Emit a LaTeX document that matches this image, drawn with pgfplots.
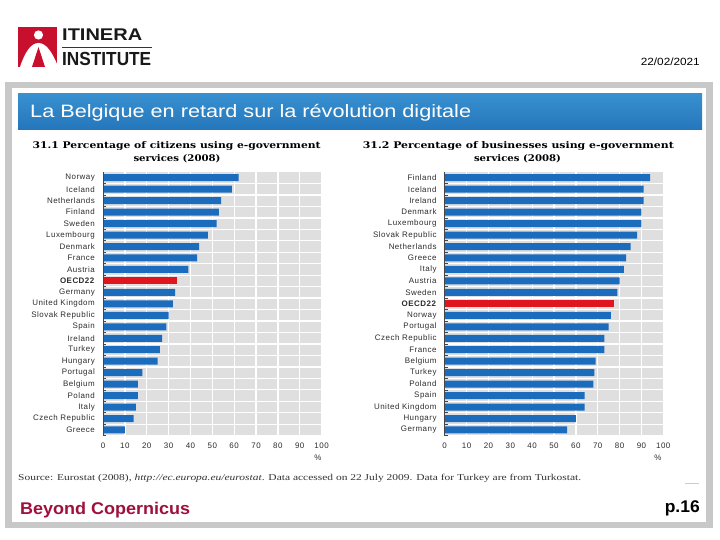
\documentclass[border=0pt]{standalone}
\usepackage{graphicx}
\usepackage{fontspec}
\usepackage{pgfplots}
\usepackage{pgfplotstable}
\pgfplotsset{compat=1.18}
\setmainfont{Liberation Sans}
\newfontfamily\titleserif{DejaVu Serif}
\newfontfamily\srcserif{Liberation Serif}
\newfontfamily\labfont{Liberation Sans}[LetterSpace=6]
\newcommand\fitw[2]{\resizebox{#1}{\height}{#2}}
\definecolor{barblue}{RGB}{28,108,190}
\definecolor{barred}{RGB}{224,22,30}
\definecolor{bggray}{RGB}{223,223,223}
\definecolor{framegray}{RGB}{200,200,200}
\definecolor{hdtop}{RGB}{56,144,208}
\definecolor{hdbot}{RGB}{36,118,186}
\definecolor{logored}{RGB}{200,16,46}
\definecolor{crimson}{RGB}{160,16,60}
\definecolor{labgray}{RGB}{45,45,45}
\definecolor{axgray}{RGB}{70,70,70}

\pgfplotstableread{
i v
0 10
1 14
2 15
3 16
4 16
5 18
6 25
7 26
8 27
9 29
10 30
11 32
12 33
14 39
15 43
16 44
17 48
18 52
19 53
20 54
21 59
22 62
}\leftdata

\pgfplotstableread{
i v
0 56
1 60
2 64
3 64
4 68
5 68.5
6 69
7 73
8 73
9 75
10 76
12 79
13 80
14 82
15 83
16 85
17 88
18 90
19 90
20 91
21 91
22 94
}\rightdata

\pgfplotsset{
 mybar/.style={
  scale only axis, width=218.6bp, height=263.7bp,
  xmin=0, xmax=100, ymin=-0.5, ymax=22.5,
  xbar, bar width=7bp, bar shift=0pt,
  xtick={0,10,...,100}, ytick={0,...,22},
  minor ytick={-0.5,0.5,...,21.5},
  xtick pos=bottom, ytick pos=left,
  major tick length=0pt, minor tick length=3bp, tick align=inside,
  axis line style={draw=none},
  axis background/.style={fill=bggray},
  xmajorgrids, yminorgrids,
  major grid style={white, line width=1.3bp},
  minor grid style={white, line width=1.3bp},
  every minor tick/.append style={axgray, line width=0.6bp},
  tick label style={font=\labfont\fontsize{8}{9}\selectfont, text=labgray},
  yticklabel style={inner sep=0pt, xshift=-8bp, anchor=east},
  xticklabel style={inner sep=0pt, yshift=-7bp, anchor=north},
  /pgf/number format/assume math mode=true,
  clip=false,
 }}

\begin{document}
\begin{tikzpicture}[x=1bp,y=1bp]
\fill[white] (0,0) rectangle (720,-540);
\useasboundingbox (0,0) rectangle (720,-540);

% logo
\fill[logored] (18,-27) rectangle (57,-67);
\fill[white] (20,-67) .. controls (25,-52) and (31,-43) .. (38.5,-43)
  .. controls (46,-43) and (52,-52) .. (57,-64) -- (57,-67) -- cycle;
\fill[logored] (38.5,-47) -- (32,-67) -- (45,-67) -- cycle;
\fill[white] (38.5,-35) circle (4.6);
\node[anchor=base west, inner sep=0, text=black!90] at (62,-41)
  {\fitw{80bp}{\bfseries\fontsize{17}{17}\selectfont ITINERA}};
\draw[logored!70!black, line width=0.8] (62,-47) -- (152,-47);
\node[anchor=base west, inner sep=0, text=black!90] at (62,-66)
  {\fitw{89bp}{\bfseries\fontsize{19}{19}\selectfont INSTITUTE}};

% date
\node[anchor=base east, inner sep=0] at (700,-66)
  {\fitw{59bp}{\fontsize{10.5}{12}\selectfont 22/02/2021}};

% frame
\fill[framegray] (5,-82) rectangle (713,-528);
\fill[white] (12,-88) rectangle (706,-521.5);

% header bar
\shade[top color=hdtop, bottom color=hdbot] (18,-94) rectangle (702,-130);
\node[anchor=base west, inner sep=0, text=white] at (30,-118)
  {\fitw{441bp}{\fontsize{18}{20}\selectfont La Belgique en retard sur la révolution digitale}};

% chart titles
\node[anchor=base west, inner sep=0] at (32.5,-149)
  {\fitw{288bp}{\titleserif\bfseries\fontsize{9.2}{10}\selectfont 31.1 Percentage of citizens using e-government}};
\node[anchor=base, inner sep=0] at (177,-161.7)
  {\fitw{87bp}{\titleserif\bfseries\fontsize{9.2}{10}\selectfont services (2008)}};
\node[anchor=base west, inner sep=0] at (362.7,-149)
  {\fitw{311bp}{\titleserif\bfseries\fontsize{9.2}{10}\selectfont 31.2 Percentage of businesses using e-government}};
\node[anchor=base, inner sep=0] at (517.5,-161.7)
  {\fitw{87bp}{\titleserif\bfseries\fontsize{9.2}{10}\selectfont services (2008)}};

% left chart
\begin{axis}[mybar, at={(103bp,-435.7bp)}, anchor=south west,
  yticklabels={Greece,Czech Republic,Italy,Poland,Belgium,Portugal,Hungary,Turkey,Ireland,Spain,Slovak Republic,United Kingdom,Germany,{\textbf{OECD22}},Austria,France,Denmark,Luxembourg,Sweden,Finland,Netherlands,Iceland,Norway}]
\addplot[fill=barblue, draw=none] table[x=v, y=i] {\leftdata};
\addplot[fill=barred, draw=none] coordinates {(34,13)};
\draw[axgray, line width=0.8bp] (rel axis cs:0,0) -- (rel axis cs:0,1);
\end{axis}

% right chart
\begin{axis}[mybar, at={(444.7bp,-435.7bp)}, anchor=south west,
  yticklabels={Germany,Hungary,United Kingdom,Spain,Poland,Turkey,Belgium,France,Czech Republic,Portugal,Norway,{\textbf{OECD22}},Sweden,Austria,Italy,Greece,Netherlands,Slovak Republic,Luxembourg,Denmark,Ireland,Iceland,Finland}]
\addplot[fill=barblue, draw=none] table[x=v, y=i] {\rightdata};
\addplot[fill=barred, draw=none] coordinates {(77.5,11)};
\draw[axgray, line width=0.8bp] (rel axis cs:0,0) -- (rel axis cs:0,1);
\end{axis}

% percent signs
\node[inner sep=0, text=labgray, font=\labfont\fontsize{8}{9}\selectfont] at (318,-458) {\%};
\node[inner sep=0, text=labgray, font=\labfont\fontsize{8}{9}\selectfont] at (658,-458) {\%};

% source
\node[anchor=base west, inner sep=0, text=black!80] at (18,-480)
  {\fitw{563bp}{\srcserif\fontsize{9}{10}\selectfont Source: Eurostat (2008), \textit{http://ec.europa.eu/eurostat}. Data accessed on 22 July 2009. Data for Turkey are from Turkostat.}};
\draw[black!20, line width=1] (685,-483) -- (699,-483);

% footer
\node[anchor=base west, inner sep=0, text=crimson] at (20,-514)
  {\fitw{170bp}{\bfseries\fontsize{17}{20}\selectfont Beyond Copernicus}};
\node[anchor=base east, inner sep=0] at (700,-512)
  {\fitw{35bp}{\bfseries\fontsize{17}{20}\selectfont p.16}};
\end{tikzpicture}
\end{document}
